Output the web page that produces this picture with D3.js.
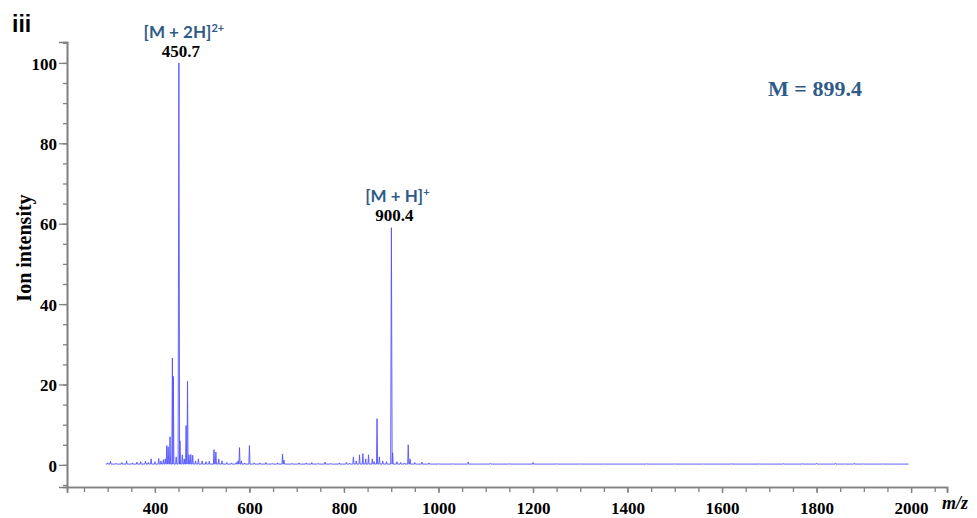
<!DOCTYPE html>
<html>
<head>
<meta charset="utf-8">
<script src="https://cdn.jsdelivr.net/npm/d3@7"></script>
<style>
  body { margin: 0; background: #fff; }
  svg { display: block; }
</style>
</head>
<body>
<div id="chart"></div>
<script>
// peak list (m/z, relative intensity)
const peakMz = [300, 306, 318, 330, 340, 352, 362, 370, 380, 386, 392, 400, 408, 413, 418, 422, 425, 428, 432,
  437, 439, 445, 450.7, 453, 458, 462, 466, 469, 472, 476, 480, 486, 492, 500, 508, 515, 525, 529, 535, 542,
  552, 562, 572, 576, 579, 583, 590, 600, 610, 622, 635, 648, 660, 670, 673, 690, 705, 720, 732, 745, 760,
  772, 790, 805, 812, 820, 826, 833, 840, 846, 852, 860, 864, 870, 875, 882, 890, 900.4, 903, 912, 920, 928,
  936, 940, 950, 965, 980, 1000, 1030, 1063, 1110, 1150, 1200, 1250, 1300, 1350, 1440, 1500, 1560, 1620,
  1680, 1730, 1770, 1800, 1840, 1860, 1880, 1900, 1940, 1993]
const peakInt = [0.5, 0.9, 0.4, 0.6, 1.0, 0.5, 0.7, 0.8, 0.9, 0.6, 1.5, 0.8, 1.6, 1.0, 1.3, 1.5, 4.8, 4.5, 7.0,
  26.6, 22.0, 2.0, 100, 6.0, 2.5, 1.5, 9.8, 20.8, 2.5, 2.6, 2.4, 1.0, 1.5, 1.0, 0.8, 0.9, 3.8, 3.2, 1.5, 1.0,
  0.6, 0.5, 0.6, 1.0, 4.3, 1.0, 0.5, 4.8, 0.5, 0.5, 0.6, 0.4, 0.5, 2.7, 1.2, 0.4, 0.5, 0.5, 0.6, 0.4, 0.7,
  0.4, 0.5, 0.6, 0.4, 2.0, 1.0, 2.5, 2.8, 1.5, 2.5, 1.5, 0.8, 11.5, 2.0, 1.0, 0.8, 59, 3.0, 0.8, 0.6, 0.5,
  5.0, 1.5, 0.6, 0.7, 0.5, 0.3, 0.3, 0.7, 0.4, 0.3, 0.6, 0.3, 0.3, 0.3, 0.3, 0.3, 0.3, 0.3,
  0.3, 0.3, 0.3, 0.4, 0.4, 0.3, 0.4, 0.3, 0.3, 0.2]
const baseLevel = 0.2
const spectrumStart = 296
const spectrumEnd = 1993

const xMajor = [400, 600, 800, 1000, 1200, 1400, 1600, 1800, 2000]
const xMinor = [250, 300, 350, 400, 450, 500, 550, 600, 650, 700, 750, 800, 850, 900, 950, 1000, 1050, 1100,
  1150, 1200, 1250, 1300, 1350, 1400, 1450, 1500, 1550, 1600, 1650, 1700, 1750, 1800, 1850, 1900, 1950,
  2000, 2050]
const yMajor = [0, 20, 40, 60, 80, 100]
const yMinor = [-5, 0, 5, 10, 15, 20, 25, 30, 35, 40, 45, 50, 55, 60, 65, 70, 75, 80, 85, 90, 95, 100, 105]

const W = 977, H = 518
const svg = d3.select('#chart').append('svg')
  .attr('width', W)
  .attr('height', H)

const x = d3.scaleLinear().domain([214, 2076]).range([67, 947])
const y = d3.scaleLinear().domain([-5.5, 105.2]).range([487, 42])

const serif = '"Liberation Serif", "Times New Roman", serif'
const axisColor = '#808080'

// spectrum profile: each peak drawn as a narrow spike on the baseline
const pts = [[spectrumStart, baseLevel]]
for (let i = 0; i < peakMz.length; i++) {
  const hw = peakInt[i] > 50 ? 1.6 : 1.2
  pts.push([peakMz[i] - hw, baseLevel])
  pts.push([peakMz[i], peakInt[i]])
  pts.push([peakMz[i] + hw, baseLevel])
}
pts.push([spectrumEnd, baseLevel])

svg.append('path')
  .datum(pts)
  .attr('d', d3.line().x(d => x(d[0])).y(d => y(d[1])))
  .attr('fill', 'none')
  .attr('stroke', '#5252ff')
  .attr('stroke-width', 0.9)

// y axis
svg.append('g')
  .attr('transform', 'translate(67,0)')
  .call(d3.axisLeft(y).tickValues(yMinor).tickSize(4).tickFormat(''))
const yAxis = svg.append('g')
  .attr('transform', 'translate(67,0)')
  .call(d3.axisLeft(y).tickValues(yMajor).tickSize(8).tickPadding(2).tickFormat(d3.format('d')))
// x axis
svg.append('g')
  .attr('transform', 'translate(0,487)')
  .call(d3.axisBottom(x).tickValues(xMinor).tickSize(5).tickFormat(''))
svg.append('g')
  .attr('transform', 'translate(0,487)')
  .call(d3.axisBottom(x).tickValues(xMajor).tickSize(6).tickPadding(9).tickFormat(d3.format('d')))

svg.selectAll('.domain').attr('stroke', axisColor).attr('stroke-width', 1.6)
svg.selectAll('.tick line').attr('stroke', axisColor).attr('stroke-width', 1.3)
svg.selectAll('.tick text')
  .attr('fill', '#000')
  .style('font-family', serif)
  .style('font-weight', 'bold')
  .style('font-size', '17px')
yAxis.selectAll('.tick text').attr('dy', '0.36em')

// axis titles
svg.append('text')
  .attr('transform', 'translate(31,248) rotate(-90)')
  .attr('text-anchor', 'middle')
  .style('font-family', serif)
  .style('font-weight', 'bold')
  .style('font-size', '20px')
  .text('Ion intensity')

svg.append('text')
  .attr('x', 955)
  .attr('y', 509)
  .attr('text-anchor', 'middle')
  .style('font-family', serif)
  .style('font-weight', 'bold')
  .style('font-style', 'italic')
  .style('font-size', '18px')
  .text('m/z')

// panel label
svg.append('text')
  .attr('x', 12)
  .attr('y', 32)
  .style('font-family', '"Liberation Sans", Arial, sans-serif')
  .style('font-weight', 'bold')
  .style('font-size', '23px')
  .text('iii')

// peak annotations
const labelColor = '#2f5b88'
const ionLabel = function(cx, cy, main, sup) {
  const t = svg.append('text')
    .attr('x', cx)
    .attr('y', cy)
    .attr('text-anchor', 'middle')
    .attr('fill', labelColor)
    .style('font-family', 'Lato, "Open Sans", sans-serif')
    .style('font-weight', 'bold')
    .style('font-size', '17px')
  t.append('tspan').text(main)
  t.append('tspan').attr('dy', -6).style('font-size', '11px').text(sup)
}
ionLabel(x(450.7) + 5, 38, '[M + 2H]', '2+')
ionLabel(x(900.4) + 6, 202, '[M + H]', '+')

svg.append('text')
  .attr('x', x(450.7) + 2)
  .attr('y', 57)
  .attr('text-anchor', 'middle')
  .style('font-family', serif)
  .style('font-weight', 'bold')
  .style('font-size', '17px')
  .text('450.7')

svg.append('text')
  .attr('x', x(900.4) + 3)
  .attr('y', 221)
  .attr('text-anchor', 'middle')
  .style('font-family', serif)
  .style('font-weight', 'bold')
  .style('font-size', '17px')
  .text('900.4')

svg.append('text')
  .attr('x', 815)
  .attr('y', 96)
  .attr('text-anchor', 'middle')
  .attr('fill', labelColor)
  .style('font-family', serif)
  .style('font-weight', 'bold')
  .style('font-size', '22px')
  .text('M = 899.4')
</script>
</body>
</html>
